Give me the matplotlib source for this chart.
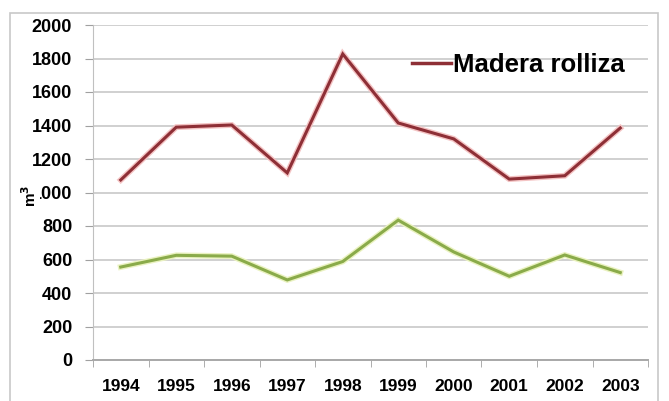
import matplotlib

matplotlib.use("Agg")
import matplotlib.pyplot as plt
from matplotlib.patches import Rectangle

years = ["1994", "1995", "1996", "1997", "1998", "1999", "2000", "2001", "2002", "2003"]
madera_rolliza = [1075, 1390, 1403, 1117, 1827, 1415, 1320, 1080, 1100, 1385]
otro = [555, 625, 620, 478, 588, 835, 645, 500, 627, 522]
y_ticks = [0, 200, 400, 600, 800, 1000, 1200, 1400, 1600, 1800, 2000]

plt.rcParams["font.family"] = ["Liberation Sans", "DejaVu Sans"]
plt.rcParams["font.weight"] = "bold"

fig = plt.figure(figsize=(6.69, 4.01), dpi=100)
ax = fig.add_axes([93 / 669, 1 - 360 / 401, 555 / 669, 335 / 401])

# outer chart border
fig.patches.append(Rectangle((10 / 669, -0.1), 648 / 669, 1.1 - 13 / 401,
                             transform=fig.transFigure, fill=False,
                             edgecolor="#c8c8c8", linewidth=1.2))

x = list(range(len(years)))
ax.plot(x, madera_rolliza, color="#f4c4c4", linewidth=4.2, solid_joinstyle="miter", zorder=3)
ax.plot(x, madera_rolliza, color="#8e2f36", linewidth=2.2, solid_joinstyle="miter",
        label="Madera rolliza", zorder=4)
ax.plot(x, otro, color="#eaf2c0", linewidth=4.2, solid_joinstyle="miter", zorder=3)
ax.plot(x, otro, color="#8aab4a", linewidth=2.2, solid_joinstyle="miter", zorder=4)

ax.set_xlim(-0.5, len(years) - 0.5)
ax.set_ylim(0, 2000)
ax.set_yticks(y_ticks)
ax.set_yticklabels([str(v) for v in y_ticks], fontsize=13, fontweight="bold")
ax.set_xticks(x)
ax.set_xticklabels(years, fontsize=12.5, fontweight="bold")
ax.set_xticks([i - 0.5 for i in range(len(years) + 1)], minor=True)
ax.tick_params(axis="x", which="major", length=0, pad=14)
ax.tick_params(axis="x", which="minor", length=5, color="#a0a0a0", direction="out")
ax.tick_params(axis="y", length=6, color="#a0a0a0", pad=9)

ax.grid(axis="y", color="#d0d0d0", linewidth=1.4)
ax.set_axisbelow(True)
for side in ["top", "right"]:
    ax.spines[side].set_visible(False)
ax.spines["left"].set_color("#c0c0c0")
ax.spines["bottom"].set_color("#a8a8a8")
ax.spines["bottom"].set_linewidth(1.4)

fig.text(30 / 669, 1 - 196 / 401, "m$^3$", rotation=90, fontsize=11, fontweight="bold",
         ha="center", va="center",
         bbox=dict(facecolor="white", edgecolor="none", pad=0.8))

leg = ax.legend(loc="upper right", bbox_to_anchor=(1.0, 0.985), frameon=False,
                prop={"size": 18.5, "weight": "bold"}, handlelength=1.5, handletextpad=0.1)
leg.get_lines()[0].set_linewidth(2.5)

fig.savefig("out.png", dpi=100)
